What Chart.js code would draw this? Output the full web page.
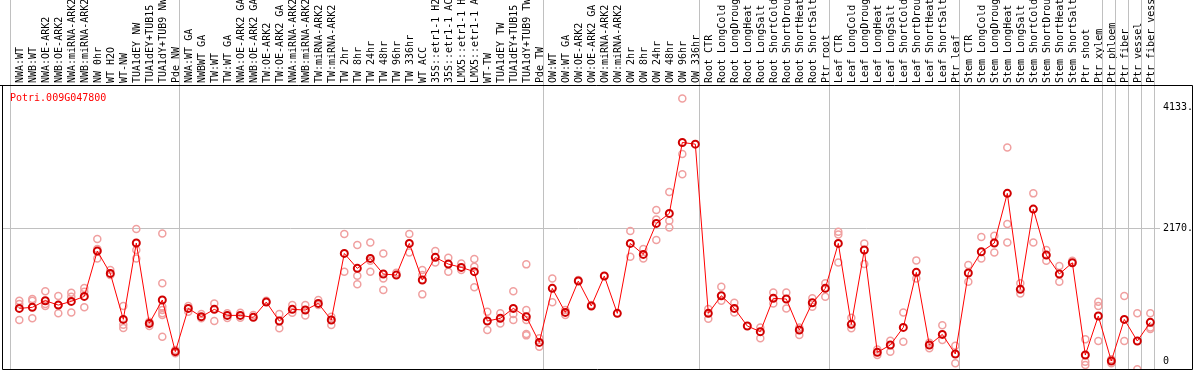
<!DOCTYPE html>
<html><head><meta charset="utf-8">
<script src="https://cdn.jsdelivr.net/npm/chart.js@4.4.1/dist/chart.umd.min.js"></script>
<style>html,body{margin:0;padding:0;background:#fff;overflow:hidden}canvas{display:block}</style>
</head><body>
<canvas id="c" width="1194" height="370"></canvas>
<script>
const geneName = 'Potri.009G047800';

const categories = [
  'NWA:WT','NWB:WT','NWA:OE-ARK2','NWB:OE-ARK2','NWA:miRNA-ARK2','NWB:miRNA-ARK2','NW 0hr','WT H2O','WT-NW',
  'TUA1dEY NW','TUA1dEY+TUB15 NW','TUA1dY+TUB9 NW','Pde NW',
  'NWA:WT GA','NWBWT GA','TW:WT','TW:WT GA','NWA:OE-ARK2 GA','NWB:OE-ARK2 GA','TW:OE-ARK2','TW:OE-ARK2 GA',
  'NWA:miRNA-ARK2 GA','NWB:miRNA-ARK2 GA','TW:miRNA-ARK2','TW:miRNA-ARK2','TW 2hr','TW 8hr','TW 24hr','TW 48hr',
  'TW 96hr','TW 336hr','WT ACC','35S::etr1-1 H2O','35S::etr1-1 ACC','LMX5::etr1-1 H2O','LMX5::etr1-1 ACC',
  'WT-TW','TUA1dEY TW','TUA1dEY+TUB15 TW','TUA1dY+TUB9 TW','Pde TW',
  'OW:WT','OW:WT GA','OW:OE-ARK2','OW:OE-ARK2 GA','OW:miRNA-ARK2','OW:miRNA-ARK2','OW 2hr','OW 8hr','OW 24hr',
  'OW 48hr','OW 96hr','OW 336hr',
  'Root CTR','Root LongCold','Root LongDrought','Root LongHeat','Root LongSalt','Root ShortCold','Root ShortDrought',
  'Root ShortHeat','Root ShortSalt','Ptr root',
  'Leaf CTR','Leaf LongCold','Leaf LongDrought','Leaf LongHeat','Leaf LongSalt','Leaf ShortCold','Leaf ShortDrought',
  'Leaf ShortHeat','Leaf ShortSalt','Ptr leaf',
  'Stem CTR','Stem LongCold','Stem LongDrought','Stem LongHeat','Stem LongSalt','Stem ShortCold','Stem ShortDrought',
  'Stem ShortHeat','Stem ShortSalt','Ptr shoot','Ptr xylem',
  'Ptr phloem','Ptr fiber','Ptr vessel','Ptr fiber vessel'
];

const meanValues = [
  867, 884, 992, 921, 981, 1062, 1799, 1436, 688, 1930, 623, 1003, 163,
  867, 732, 851, 753, 753, 721, 970, 661, 851, 840, 948, 678, 1761, 1518, 1680, 1426,
  1409, 1924, 1328, 1697, 1588, 1534, 1464, 661, 705, 867, 732, 314,
  1193, 802, 1312, 905, 1393, 786, 1924, 1745, 2249, 2412, 3566, 3539,
  786, 1073, 867, 580, 488, 1030, 1019, 515, 959, 1193,
  1924, 607, 1816, 152, 271, 558, 1453, 271, 444, 125,
  1442, 1788, 1930, 2738, 1177, 2482, 1734, 1426, 1610, 108, 743,
  11, 688, 336, 640
];

const replicateValues = [
  [992, 938, 678], [1019, 992, 705], [1144, 938, 905], [1068, 786, 921], [1122, 1057, 802],
  [1198, 1138, 884], [1995, 1832, 1680], [1491, 1409], [905, 602, 547], [2157, 1680, 1816],
  [650, 580], [2087, 1274, 840, 786, 406, 895, 760], [190, 136],
  [905, 813], [775, 705], [948, 661], [786, 710], [797, 716], [759], [992], [775, 542],
  [921, 797], [921, 753], [1003, 921], [732, 596], [2076, 1464], [1898, 1399, 1258],
  [1940, 1464, 1643], [1761, 1355, 1165], [1447], [2076, 1778], [1491, 1095, 1409],
  [1799, 1615], [1691, 1464], [1599, 1491], [1669, 1545, 1209], [813, 515], [786, 623],
  [1144, 775, 678], [1583, 840, 678, 450, 428], [380, 244],
  [1355, 965], [759, 840], [1328], [921], [], [], [2125, 1708], [1832, 1680],
  [2466, 2314, 1978], [2759, 2293, 2184], [4282, 3377, 3051], [],
  [856, 699], [1220, 992], [959, 802], [], [558, 380], [1127, 948], [1127, 867],
  [434, 558], [1030, 894], [1274, 1057],
  [2114, 2071, 1615], [716, 542], [1924, 1588], [108, 200], [342, 163], [802, 325],
  [1648, 1355], [309, 217], [591, 352], [260, -27],
  [1572, 1301], [2027, 1680], [2049, 1778], [3485, 2238, 1940], [1274, 1111], [2738, 1940],
  [1816, 1643], [1556, 1301], [1643], [363, 0, -54], [976, 905, 336],
  [-27, 38], [1068, 336], [786, -125], [786, 558, 531]
];

const yTickValues = [0, 2170, 4133];
const yTickLabels = ['0', '2170.', '4133.'];
const gridTickValue = 2170;
const groupBoundaries = [0, 13, 41, 53, 63, 73, 84, 85, 86, 87, 88];

const MONO = '"DejaVu Sans Mono", "Liberation Mono", monospace';
Chart.defaults.font.family = MONO;
Chart.defaults.font.size = 10;
Chart.defaults.color = '#000';

const meanPoints = meanValues.map((v, i) => ({x: i, y: v}));
const repPoints = [];
replicateValues.forEach((arr, i) => arr.forEach(v => repPoints.push({x: i, y: v})));

const framePlugin = {
  id: 'frame',
  beforeDatasetsDraw(chart) {
    const {ctx, chartArea, scales} = chart;
    const xs = scales.x;
    ctx.save();
    ctx.strokeStyle = '#c0c0c0';
    ctx.lineWidth = 1;
    groupBoundaries.forEach(k => {
      const px = Math.round(xs.getPixelForValue(k - 0.69)) + 0.5;
      ctx.beginPath();
      ctx.moveTo(px, 0);
      ctx.lineTo(px, chartArea.bottom);
      ctx.stroke();
    });
    ctx.restore();
  },
  afterDraw(chart) {
    const {ctx, chartArea} = chart;
    ctx.save();
    ctx.strokeStyle = '#000';
    ctx.lineWidth = 1;
    const t = chartArea.top + 0.5, b = chartArea.bottom + 0.5;
    const l = chartArea.left + 0.5, r = chart.width - 1.5;
    ctx.beginPath();
    ctx.moveTo(0, t); ctx.lineTo(r, t); ctx.lineTo(r, b); ctx.lineTo(l, b); ctx.lineTo(l, t);
    ctx.stroke();
    ctx.fillStyle = '#ff0000';
    ctx.font = '10px ' + MONO;
    ctx.textAlign = 'left';
    ctx.textBaseline = 'alphabetic';
    ctx.fillText(geneName, chartArea.left + 8, chartArea.top + 16);
    ctx.restore();
  }
};

new Chart(document.getElementById('c'), {
  type: 'line',
  data: {
    datasets: [
      {
        label: 'mean', data: meanPoints, order: 0,
        borderColor: '#ff0000', borderWidth: 1, tension: 0,
        pointRadius: 3.5, pointBorderWidth: 2,
        pointBorderColor: '#d00000', pointBackgroundColor: 'rgba(0,0,0,0)'
      },
      {
        type: 'scatter', label: 'replicates', data: repPoints, order: 1, showLine: false,
        pointRadius: 3.5, pointBorderWidth: 1.5,
        pointBorderColor: '#f0a0a0', pointBackgroundColor: 'rgba(0,0,0,0)'
      }
    ]
  },
  options: {
    responsive: false, animation: false, events: [],
    layout: {autoPadding: false, padding: {left: 2, right: 2, top: 0, bottom: 1}},
    plugins: {legend: {display: false}, tooltip: {enabled: false}, title: {display: false}},
    scales: {
      x: {
        type: 'linear', position: 'top', min: -1.331, max: 87.36,
        afterBuildTicks: s => { s.ticks = categories.map((c, i) => ({value: i})); },
        afterFit: s => { s.height = 85; s.paddingLeft = 0; s.paddingRight = 0; },
        ticks: {
          autoSkip: false, maxRotation: 90, minRotation: 90, padding: 2, labelOffset: 13,
          callback: v => categories[v], font: {size: 10, family: MONO}, color: '#000'
        },
        grid: {display: false, drawTicks: false},
        border: {display: false}
      },
      y: {
        position: 'right', min: -119, max: 4501,
        afterBuildTicks: s => { s.ticks = yTickValues.map(v => ({value: v})); },
        afterFit: s => { s.width = 37; s.paddingTop = 0; s.paddingBottom = 0; },
        ticks: {
          padding: 3, font: {size: 10, family: MONO}, color: '#000',
          callback: v => yTickLabels[yTickValues.indexOf(v)]
        },
        grid: {
          color: c => (c.tick && c.tick.value === gridTickValue) ? '#c0c0c0' : 'rgba(0,0,0,0)',
          tickLength: 5
        },
        border: {display: false}
      }
    }
  },
  plugins: [framePlugin]
});
</script>
</body></html>
